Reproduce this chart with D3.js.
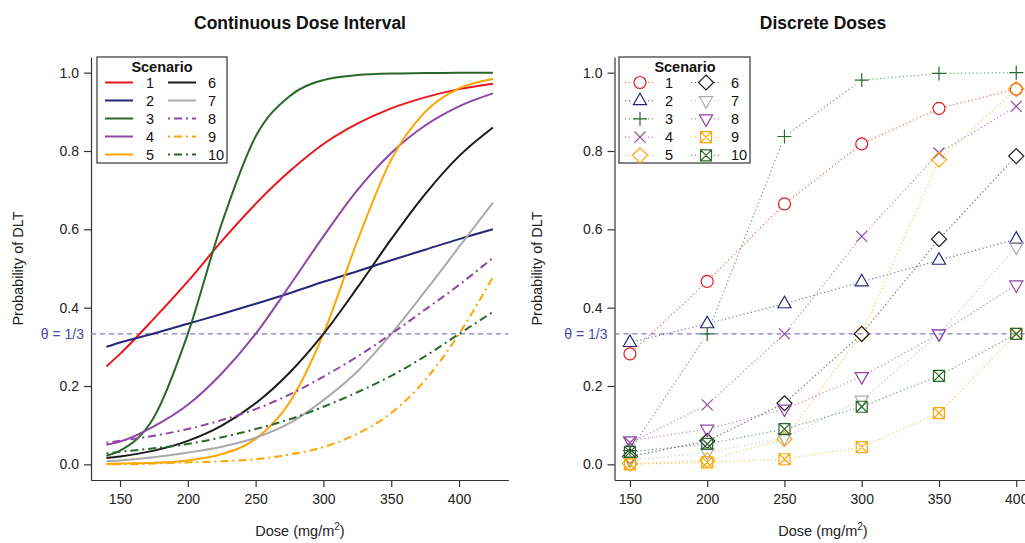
<!DOCTYPE html>
<html>
<head>
<meta charset="utf-8">
<style>
body { margin: 0; background: #fff; }
text { font-family: "Liberation Sans", Arial, sans-serif; }
</style>
</head>
<body>
<svg width="1025" height="543"></svg>
<script src="https://d3js.org/d3.v7.min.js"></script>
<script>

// Dose-toxicity curves for 10 scenarios: continuous interval (left) and discrete doses (right)

var scenarios = ["1", "2", "3", "4", "5", "6", "7", "8", "9", "10"];
var colors = ["#E8161C", "#27277A", "#28682A", "#8E47A6", "#FFA500",
              "#1A1A1A", "#AAAAAA", "#8E47A6", "#FFA500", "#28682A"];
var shapes = ["circle", "triUp", "plus", "cross", "diamond",
              "diamond", "triDown", "triDown", "boxX", "boxX"];
var dashdot = [false, false, false, false, false, false, false, true, true, true];

var xTicks = [150, 200, 250, 300, 350, 400];
var yTicks = [0, 0.2, 0.4, 0.6, 0.8, 1.0];
var theta = 1 / 3;

// continuous curves read at these doses
var contDose = [140, 150, 175, 200, 225, 250, 275, 300, 325, 350, 375, 400, 425];
var cont1  = [0.250, 0.282, 0.372, 0.467, 0.570, 0.665, 0.748, 0.818, 0.870, 0.909, 0.937, 0.958, 0.972];
var cont2  = [0.300, 0.311, 0.334, 0.359, 0.384, 0.410, 0.437, 0.466, 0.493, 0.521, 0.548, 0.575, 0.600];
var cont3  = [0.022, 0.035, 0.120, 0.333, 0.615, 0.837, 0.940, 0.981, 0.994, 0.998, 0.999, 1.000, 1.000];
var cont4  = [0.050, 0.058, 0.097, 0.152, 0.232, 0.333, 0.456, 0.582, 0.700, 0.795, 0.865, 0.914, 0.947];
var cont5  = [0.001, 0.002, 0.004, 0.010, 0.026, 0.065, 0.158, 0.333, 0.570, 0.778, 0.900, 0.960, 0.984];
var cont6  = [0.016, 0.020, 0.035, 0.060, 0.099, 0.156, 0.234, 0.333, 0.451, 0.575, 0.690, 0.787, 0.860];
var cont7  = [0.008, 0.010, 0.018, 0.030, 0.045, 0.068, 0.105, 0.164, 0.237, 0.333, 0.442, 0.555, 0.668];
var cont8  = [0.055, 0.060, 0.073, 0.090, 0.113, 0.141, 0.178, 0.224, 0.275, 0.333, 0.395, 0.458, 0.527];
var cont9  = [0.000, 0.000, 0.002, 0.005, 0.008, 0.013, 0.025, 0.044, 0.078, 0.131, 0.215, 0.333, 0.478];
var cont10 = [0.028, 0.032, 0.041, 0.052, 0.069, 0.090, 0.115, 0.147, 0.184, 0.226, 0.276, 0.333, 0.389];

// discrete doses
var discDose = [150, 200, 250, 300, 350, 400];
var disc1  = [0.282, 0.467, 0.665, 0.818, 0.909, 0.958];
var disc2  = [0.311, 0.359, 0.410, 0.466, 0.521, 0.575];
var disc3  = [0.035, 0.333, 0.837, 0.981, 0.998, 1.000];
var disc4  = [0.055, 0.152, 0.333, 0.582, 0.795, 0.914];
var disc5  = [0.002, 0.010, 0.065, 0.333, 0.778, 0.958];
var disc6  = [0.020, 0.060, 0.156, 0.333, 0.575, 0.787];
var disc7  = [0.010, 0.030, 0.068, 0.164, 0.333, 0.555];
var disc8  = [0.060, 0.090, 0.141, 0.224, 0.333, 0.458];
var disc9  = [0.000, 0.005, 0.013, 0.044, 0.131, 0.333];
var disc10 = [0.032, 0.052, 0.090, 0.147, 0.226, 0.333];

var contSeries = [cont1, cont2, cont3, cont4, cont5, cont6, cont7, cont8, cont9, cont10];
var discSeries = [disc1, disc2, disc3, disc4, disc5, disc6, disc7, disc8, disc9, disc10];

var svg = d3.select("svg");
var thetaCol = "#4A4AA6", thetaLine = "#7C7CC2", axisCol = "#333";
var dashPattern = "2,4,8,4";

var y = d3.scaleLinear().domain([-0.04, 1.04]).range([480, 57]);
var xL = d3.scaleLinear().domain([128.6, 436.4]).range([91, 508.4]);
var xR = d3.scaleLinear().domain([140, 410]).range([614.5, 1031.7]);

function symbolPath(shape) {
  switch (shape) {
    case "circle": return "M6,0A6,6 0 1,1 -6,0A6,6 0 1,1 6,0Z";
    case "triUp": return "M0,-7.5L6.6,4L-6.6,4Z";
    case "triDown": return "M0,7.5L6.6,-4L-6.6,-4Z";
    case "plus": return "M-7,0L7,0M0,-7L0,7";
    case "cross": return "M-5.5,-5.5L5.5,5.5M-5.5,5.5L5.5,-5.5";
    case "diamond": return "M0,-7.5L7.5,0L0,7.5L-7.5,0Z";
    case "boxX": return "M-5.5,-5.5H5.5V5.5H-5.5ZM-5.5,-5.5L5.5,5.5M-5.5,5.5L5.5,-5.5";
  }
}

function drawAxes(x, left, right) {
  svg.append("g")
      .attr("transform", "translate(0,480)")
      .call(d3.axisBottom(x).tickValues(xTicks).tickSize(7).tickSizeOuter(0).tickPadding(7))
      .call(function(g) {
        g.select(".domain").attr("stroke", axisCol).attr("stroke-width", 1.2);
        g.selectAll(".tick line").attr("stroke", axisCol).attr("stroke-width", 1.2);
        g.selectAll("text").attr("font-size", 14).attr("fill", "#222")
          .attr("font-family", "Liberation Sans, Arial, sans-serif");
      });
  svg.append("g")
      .attr("transform", "translate(" + left + ",0)")
      .call(d3.axisLeft(y).tickValues(yTicks).tickFormat(d3.format(".1f")).tickSize(7).tickSizeOuter(0).tickPadding(5))
      .call(function(g) {
        g.select(".domain").attr("stroke", axisCol).attr("stroke-width", 1.2);
        g.selectAll(".tick line").attr("stroke", axisCol).attr("stroke-width", 1.2);
        g.selectAll("text").attr("font-size", 14).attr("fill", "#222")
          .attr("font-family", "Liberation Sans, Arial, sans-serif");
      });

  // theta reference line
  svg.append("line")
      .attr("x1", left).attr("x2", right)
      .attr("y1", y(theta)).attr("y2", y(theta))
      .attr("stroke", thetaLine).attr("stroke-width", 1.3)
      .attr("stroke-dasharray", "5,4");
  svg.append("text")
      .attr("x", left - 7).attr("y", y(theta))
      .attr("text-anchor", "end").attr("dominant-baseline", "central")
      .attr("font-size", 14).attr("fill", thetaCol)
      .text("\u03B8 = 1/3");
}

function labels(cx, ylabX, title) {
  svg.append("text")
      .attr("x", cx).attr("y", 29)
      .attr("text-anchor", "middle")
      .attr("font-size", 17.5).attr("font-weight", "bold").attr("fill", "#111")
      .text(title);
  var t = svg.append("text")
      .attr("x", cx).attr("y", 536)
      .attr("text-anchor", "middle")
      .attr("font-size", 14.5).attr("fill", "#222");
  t.append("tspan").text("Dose (mg/m");
  t.append("tspan").attr("font-size", 10).attr("dy", -6).text("2");
  t.append("tspan").attr("dy", 6).text(")");
  svg.append("text")
      .attr("transform", "translate(" + ylabX + "," + y(0.5) + ") rotate(-90)")
      .attr("text-anchor", "middle").attr("dominant-baseline", "central")
      .attr("font-size", 14.5).attr("fill", "#222")
      .text("Probability of DLT");
}

// ---------- left panel: continuous ----------
labels(300, 18, "Continuous Dose Interval");
drawAxes(xL, 91, 508.4);

var line = d3.line()
    .x(function(d) { return xL(d[0]); })
    .y(function(d) { return y(d[1]); })
    .curve(d3.curveMonotoneX);

contSeries.forEach(function(s, i) {
  svg.append("path")
      .datum(contDose.map(function(d, j) { return [d, s[j]]; }))
      .attr("fill", "none")
      .attr("stroke", colors[i])
      .attr("stroke-width", 2)
      .attr("stroke-dasharray", dashdot[i] ? dashPattern : null)
      .attr("d", line);
});

// left legend
var legL = svg.append("g");
legL.append("rect").attr("x", 97).attr("y", 57).attr("width", 130).attr("height", 106)
    .attr("fill", "#fff").attr("stroke", axisCol).attr("stroke-width", 1.2);
legL.append("text").attr("x", 162).attr("y", 72).attr("text-anchor", "middle")
    .attr("font-size", 14.5).attr("font-weight", "bold").attr("fill", "#111").text("Scenario");
scenarios.forEach(function(name, i) {
  var col = Math.floor(i / 5), row = i % 5;
  var ly = 82.5 + row * 18;
  var lx = col === 0 ? 105 : 168;
  legL.append("line").attr("x1", lx).attr("x2", lx + 28).attr("y1", ly).attr("y2", ly)
      .attr("stroke", colors[i]).attr("stroke-width", 2)
      .attr("stroke-dasharray", dashdot[i] ? dashPattern : null);
  legL.append("text").attr("x", col === 0 ? 146 : 208).attr("y", ly)
      .attr("dominant-baseline", "central").attr("font-size", 14.5).attr("fill", "#111")
      .text(name);
});

// ---------- right panel: discrete ----------
labels(823, 537, "Discrete Doses");
drawAxes(xR, 614.5, 1025);

var gap = 7;
discSeries.forEach(function(s, i) {
  var pts = discDose.map(function(d, j) { return [xR(d), y(s[j])]; });
  for (var j = 0; j < pts.length - 1; j++) {
    var a = pts[j], b = pts[j + 1];
    var dx = b[0] - a[0], dy = b[1] - a[1], len = Math.sqrt(dx * dx + dy * dy);
    if (len <= 2 * gap) continue;
    var ux = dx / len, uy = dy / len;
    svg.append("line")
        .attr("x1", a[0] + ux * gap).attr("y1", a[1] + uy * gap)
        .attr("x2", b[0] - ux * gap).attr("y2", b[1] - uy * gap)
        .attr("stroke", colors[i]).attr("stroke-width", 1.2)
        .attr("stroke-opacity", 0.65)
        .attr("stroke-dasharray", "1.2,2.6");
  }
});

discSeries.forEach(function(s, i) {
  svg.append("g").selectAll("path")
    .data(discDose.map(function(d, j) { return [d, s[j]]; }))
    .join("path")
      .attr("transform", function(d) { return "translate(" + xR(d[0]) + "," + y(d[1]) + ")"; })
      .attr("d", symbolPath(shapes[i]))
      .attr("fill", "none")
      .attr("stroke", colors[i])
      .attr("stroke-width", 1.2);
});

// right legend
var legR = svg.append("g");
legR.append("rect").attr("x", 619).attr("y", 57).attr("width", 131).attr("height", 106)
    .attr("fill", "#fff").attr("stroke", axisCol).attr("stroke-width", 1.2);
legR.append("text").attr("x", 685).attr("y", 72).attr("text-anchor", "middle")
    .attr("font-size", 14.5).attr("font-weight", "bold").attr("fill", "#111").text("Scenario");
scenarios.forEach(function(name, i) {
  var col = Math.floor(i / 5), row = i % 5;
  var ly = 82.5 + row * 18.2;
  var sx = col === 0 ? 640 : 706;
  [[-15, -8], [8, 15]].forEach(function(seg) {
    legR.append("line").attr("x1", sx + seg[0]).attr("x2", sx + seg[1]).attr("y1", ly).attr("y2", ly)
        .attr("stroke", colors[i]).attr("stroke-width", 1.2).attr("stroke-opacity", 0.65)
        .attr("stroke-dasharray", "1.2,2.6");
  });
  legR.append("path").attr("transform", "translate(" + sx + "," + ly + ")")
      .attr("d", symbolPath(shapes[i])).attr("fill", "none")
      .attr("stroke", colors[i]).attr("stroke-width", 1.2);
  legR.append("text").attr("x", col === 0 ? 665 : 731).attr("y", ly)
      .attr("dominant-baseline", "central").attr("font-size", 14.5).attr("fill", "#111")
      .text(name);
});

</script>
</body>
</html>
